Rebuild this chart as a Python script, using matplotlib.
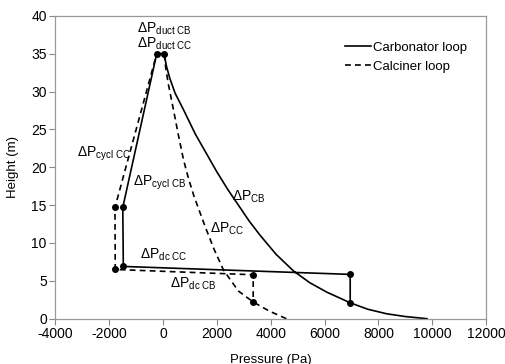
import matplotlib
matplotlib.use("Agg")
import matplotlib.pyplot as plt

plt.rcParams['font.family'] = ['Liberation Sans', 'DejaVu Sans']
plt.rcParams['mathtext.fontset'] = 'custom'
plt.rcParams['mathtext.rm'] = 'Liberation Sans'
plt.rcParams['mathtext.it'] = 'Liberation Sans'
plt.rcParams['axes.unicode_minus'] = False

# --- data ---
# carbonator loop (solid): riser curve, duct, cyclone, downcomer, loop seal
cb_x = [9800, 9000, 8300, 7600, 6950, 6085, 5450, 4846, 4200, 3610, 3200, 2800,
        2400, 2000, 1600, 1200, 763, 450, 250, 120, 50,
        -230, -1490, -1470, 6950, 6950]
cb_y = [0, 0.28, 0.65, 1.25, 2.1, 3.5, 4.75, 6.3, 8.5, 11.0, 12.9, 15.0,
        17.1, 19.4, 21.9, 24.4, 27.6, 29.8, 31.8, 33.5, 35,
        35, 14.7, 6.9, 5.85, 2.1]
cb_dots_x = [50, -230, -1490, -1470, 6950, 6950]
cb_dots_y = [35, 35, 14.7, 6.9, 5.85, 2.1]

# calciner loop (dashed)
cc_x = [4580, 3950, 3350, 2800, 2247, 1900, 1568, 1150, 950, 763, 560, 391,
        200, 100, 50,
        -230, -1780, -1770, 3350, 3350]
cc_y = [0, 1.0, 2.2, 3.66, 6.43, 9.15, 12.15, 16.2, 18.5, 21.0, 24.5, 27.6,
        31.0, 33.2, 35,
        35, 14.7, 6.5, 5.8, 2.2]
cc_dots_x = [-1780, -1770, 3350, 3350]
cc_dots_y = [14.7, 6.5, 5.8, 2.2]

labels = [
    (r'$\mathrm{ΔP}_{\mathrm{duct\ CB}}$', -970, 38.3),
    (r'$\mathrm{ΔP}_{\mathrm{duct\ CC}}$', -970, 36.3),
    (r'$\mathrm{ΔP}_{\mathrm{cycl\ CC}}$', -3200, 21.8),
    (r'$\mathrm{ΔP}_{\mathrm{cycl\ CB}}$', -1100, 18.0),
    (r'$\mathrm{ΔP}_{\mathrm{CB}}$', 2560, 16.1),
    (r'$\mathrm{ΔP}_{\mathrm{CC}}$', 1750, 11.9),
    (r'$\mathrm{ΔP}_{\mathrm{dc\ CC}}$', -850, 8.4),
    (r'$\mathrm{ΔP}_{\mathrm{dc\ CB}}$', 270, 4.6),
]

fig = plt.figure(figsize=(5.06, 3.64), dpi=100)
ax = fig.add_axes([0.109, 0.1245, 0.852, 0.832])

ax.plot(cb_x, cb_y, color='black', lw=1.2, label='Carbonator loop')
ax.plot(cc_x, cc_y, color='black', lw=1.2, dashes=(3.5, 2.5), label='Calciner loop')
ax.plot(cb_dots_x, cb_dots_y, 'o', color='black', ms=4)
ax.plot(cc_dots_x, cc_dots_y, 'o', color='black', ms=4)

for txt, x, y in labels:
    ax.text(x, y, txt, fontsize=10, va='center', ha='left')

ax.set_xlim(-4000, 12000)
ax.set_ylim(0, 40)
ax.set_xticks(range(-4000, 12001, 2000))
ax.set_yticks(range(0, 41, 5))
ax.tick_params(direction='out', length=4, color='#888888', labelsize=10, pad=2)
for s in ax.spines.values():
    s.set_color('#999999')
    s.set_linewidth(0.9)

ax.set_xlabel('Pressure (Pa)', fontsize=9.5, labelpad=9)
ax.set_ylabel('Height (m)', fontsize=9.5, labelpad=9)

ax.legend(frameon=False, loc='upper left', bbox_to_anchor=(0.645, 0.955),
          handlelength=2.0, handletextpad=0.1, labelspacing=0.55, fontsize=9.5)

fig.savefig('out.png', dpi=100)
